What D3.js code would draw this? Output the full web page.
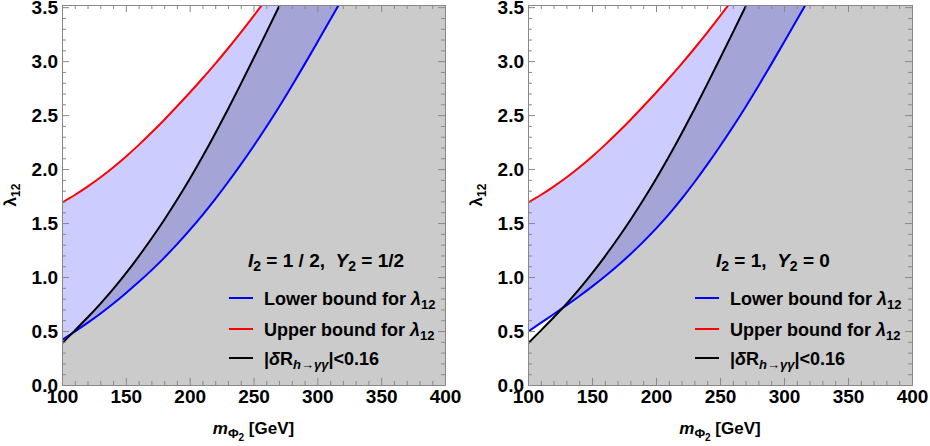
<!DOCTYPE html>
<html><head><meta charset="utf-8">
<script src="https://cdn.jsdelivr.net/npm/d3@7"></script>
<style>
body{margin:0;background:#fff}
svg{display:block}
text{font-family:"Liberation Sans",Arial,sans-serif;font-weight:bold;white-space:pre}
</style>
</head><body>
<svg id="c" width="930" height="446"></svg>
<script>
// ---- data ----
const massUpper = [100,110,120,130,140,150,160,170,180,190,200,210,220,230,240,250,260,270];
const upperBound = [1.690,1.760,1.838,1.922,2.015,2.115,2.222,2.336,2.455,2.580,2.707,2.839,2.975,3.117,3.264,3.417,3.575,3.738];

const massDeltaR = [100,110,120,130,140,150,160,170,180,190,200,210,220,230,240,250,260,270,280];
const deltaR = [0.386,0.504,0.625,0.752,0.888,1.034,1.190,1.355,1.529,1.713,1.908,2.114,2.330,2.555,2.787,3.024,3.264,3.506,3.750];

const massLower = [100,110,120,130,140,150,160,170,180,190,200,210,220,230,240,250,260,270,280,290,300,310,320];
const lowerBoundA = [0.417,0.495,0.575,0.660,0.752,0.850,0.953,1.062,1.178,1.302,1.434,1.574,1.722,1.878,2.041,2.212,2.390,2.576,2.770,2.970,3.174,3.380,3.588];
const lowerBoundB = [0.494,0.575,0.655,0.737,0.822,0.911,1.005,1.105,1.212,1.326,1.448,1.580,1.724,1.878,2.041,2.212,2.390,2.576,2.770,2.970,3.174,3.380,3.588];

const xTicks = [100,150,200,250,300,350,400];
const yTicks = [0,0.5,1.0,1.5,2.0,2.5,3.0,3.5];
const xDomain = [100,400];
const yDomain = [0,3.52];

const legendLabels = ["Lower bound for ", "Upper bound for ", "|δR"];
const titleA = ["1 / 2,  ", "1/2"];
const titleB = ["1,  ", "0"];

// ---- styles ----
const colGray = "#cbcbcb", colLight = "#ccccff", colDark = "#a4a4d6", colFrame = "#888888";
const colBlue = "#0000ff", colRed = "#ff0000", colBlack = "#000000";

const svg = d3.select("#c");
const defs = svg.append("defs");
const plotTop = 5, plotBottom = 385;

const panels = [
  {id:"a", left:62, right:445, lower:lowerBoundA, title:titleA, titleX:186},
  {id:"b", left:528, right:912, lower:lowerBoundB, title:titleB, titleX:188}
];

panels.forEach(p => {
  const x = d3.scaleLinear().domain(xDomain).range([p.left, p.right]);
  const y = d3.scaleLinear().domain(yDomain).range([plotBottom, plotTop]);
  const curve = d3.line().x(d => x(d[0])).y(d => y(d[1])).curve(d3.curveMonotoneX);
  const tail = pts => curve(pts).replace(/^M/, "L");
  const pt = d => `L${x(d[0])},${y(d[1])}`;

  const redPts = massUpper.map((m,i) => [m, upperBound[i]]);
  const blackPts = massDeltaR.map((m,i) => [m, deltaR[i]]);
  const bluePts = massLower.map((m,i) => [m, p.lower[i]]);

  defs.append("clipPath").attr("id","plot-"+p.id)
    .append("rect").attr("x", p.left).attr("y", plotTop)
    .attr("width", p.right - p.left).attr("height", plotBottom - plotTop);

  const lastBlack = blackPts[blackPts.length-1][1];
  const grayD = `M${x(xDomain[0])},${y(yDomain[0])}` + tail(blackPts) +
    pt([xDomain[1], lastBlack]) + pt([xDomain[1], yDomain[0]]) + "Z";
  defs.append("clipPath").attr("id","below-"+p.id).append("path").attr("d", grayD);

  const lightD = curve(bluePts) + tail(redPts.slice().reverse()) + "Z";

  const g = svg.append("g");
  const plot = g.append("g").attr("clip-path", `url(#plot-${p.id})`);
  plot.append("path").attr("d", grayD).attr("fill", colGray);
  plot.append("path").attr("d", lightD).attr("fill", colLight);
  plot.append("g").attr("clip-path", `url(#below-${p.id})`)
    .append("path").attr("d", lightD).attr("fill", colDark);

  plot.append("path").attr("d", curve(bluePts)).attr("fill","none").attr("stroke", colBlue).attr("stroke-width", 2);
  plot.append("path").attr("d", curve(redPts)).attr("fill","none").attr("stroke", colRed).attr("stroke-width", 2);
  plot.append("path").attr("d", curve(blackPts)).attr("fill","none").attr("stroke", colBlack).attr("stroke-width", 2);

  // axes / frame
  const minorX = d3.range(xDomain[0], xDomain[1] + 1, 10).filter(v => !xTicks.includes(v));
  const minorY = d3.range(0, 36, 1).map(v => v / 10).filter(v => !yTicks.some(t => Math.abs(t - v) < 1e-9));

  const styleAxis = sel => {
    sel.selectAll("path.domain").attr("stroke", colFrame);
    sel.selectAll(".tick line").attr("stroke", colFrame);
    sel.selectAll(".tick text").attr("fill", "#000").attr("font-size", 19)
      .attr("font-family", '"Liberation Sans",Arial,sans-serif').attr("font-weight", "bold");
  };

  g.append("g").attr("transform", `translate(0,${plotBottom})`)
    .call(d3.axisBottom(x).tickValues(minorX).tickSize(-4).tickSizeOuter(0).tickFormat("")).call(styleAxis);
  g.append("g").attr("transform", `translate(0,${plotBottom})`)
    .call(d3.axisBottom(x).tickValues(xTicks).tickSize(-7).tickSizeOuter(0).tickPadding(5).tickFormat(d3.format("d"))).call(styleAxis);
  g.append("g").attr("transform", `translate(0,${plotTop})`)
    .call(d3.axisTop(x).tickValues(minorX).tickSize(-4).tickSizeOuter(0).tickFormat("")).call(styleAxis);
  g.append("g").attr("transform", `translate(0,${plotTop})`)
    .call(d3.axisTop(x).tickValues(xTicks).tickSize(-7).tickSizeOuter(0).tickFormat("")).call(styleAxis);
  g.append("g").attr("transform", `translate(${p.left},0)`)
    .call(d3.axisLeft(y).tickValues(minorY).tickSize(-4).tickSizeOuter(0).tickFormat("")).call(styleAxis);
  g.append("g").attr("transform", `translate(${p.left},0)`)
    .call(d3.axisLeft(y).tickValues(yTicks).tickSize(-7).tickSizeOuter(0).tickPadding(4).tickFormat(d3.format(".1f"))).call(styleAxis);
  g.append("g").attr("transform", `translate(${p.right},0)`)
    .call(d3.axisRight(y).tickValues(minorY).tickSize(-4).tickSizeOuter(0).tickFormat("")).call(styleAxis);
  g.append("g").attr("transform", `translate(${p.right},0)`)
    .call(d3.axisRight(y).tickValues(yTicks).tickSize(-7).tickSizeOuter(0).tickFormat("")).call(styleAxis);

  // x-axis title
  const xt = g.append("text").attr("x", (p.left + p.right) / 2).attr("y", 434)
    .attr("text-anchor", "middle").attr("font-size", 17);
  xt.append("tspan").attr("font-style", "italic").text("m");
  xt.append("tspan").attr("font-size", 13).attr("dy", 4).text("Φ");
  xt.append("tspan").attr("font-size", 10).attr("dy", 3).text("2");
  xt.append("tspan").attr("dy", -7).text(" [GeV]");

  // y-axis title
  const yt = g.append("text").attr("transform", `translate(${p.left - 46},${(plotTop + plotBottom) / 2}) rotate(-90)`)
    .attr("text-anchor", "middle").attr("font-size", 17);
  yt.append("tspan").text("λ");
  yt.append("tspan").attr("font-size", 12).attr("dy", 4).text("12");

  // panel title
  const tt = g.append("text").attr("x", p.left + p.titleX).attr("y", 267).attr("font-size", 19);
  tt.append("tspan").attr("font-style", "italic").text("I");
  tt.append("tspan").attr("font-size", 14).attr("dy", 4).text("2");
  tt.append("tspan").attr("dy", -4).text(" = " + p.title[0]);
  tt.append("tspan").attr("font-style", "italic").text("Y");
  tt.append("tspan").attr("font-size", 14).attr("dy", 4).text("2");
  tt.append("tspan").attr("dy", -4).text(" = " + p.title[1]);

  // legend
  const legColors = [colBlue, colRed, colBlack];
  const legY = [298, 329, 358];
  legColors.forEach((c, i) => {
    g.append("line").attr("x1", p.left + 167).attr("x2", p.left + 191)
      .attr("y1", legY[i]).attr("y2", legY[i]).attr("stroke", c).attr("stroke-width", 2);
    const t = g.append("text").attr("x", p.left + 202).attr("y", legY[i] + 6.5).attr("font-size", 18);
    if (i < 2) {
      t.append("tspan").text(legendLabels[i]);
      t.append("tspan").attr("font-style", "italic").text("λ");
      t.append("tspan").attr("font-size", 13).attr("dy", 4).text("12");
    } else {
      t.append("tspan").text("|");
      t.append("tspan").attr("font-style", "italic").text("δ");
      t.append("tspan").text("R");
      t.append("tspan").attr("font-size", 13).attr("dy", 4).attr("font-style", "italic").text("h→γγ");
      t.append("tspan").attr("dy", -4).text("|<0.16");
    }
  });
});
</script>
</body></html>
